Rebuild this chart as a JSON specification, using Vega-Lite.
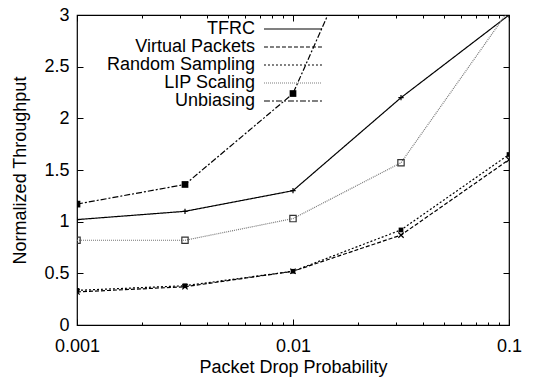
{
  "$schema": "https://vega.github.io/schema/vega-lite/v6.json",
  "width": 432,
  "height": 310,
  "autosize": {"type": "none"},
  "padding": {"left": 77, "top": 15, "right": 31, "bottom": 58},
  "background": "white",
  "config": {
    "font": "Liberation Sans",
    "view": {"stroke": "black", "strokeWidth": 1.2},
    "axis": {"labelFont": "Liberation Sans", "titleFont": "Liberation Sans", "labelFontSize": 18, "titleFontSize": 18, "titleFontWeight": "normal", "labelColor": "black", "titleColor": "black", "tickColor": "black", "grid": false, "domain": false},
    "legend": {"labelFont": "Liberation Sans", "labelFontSize": 18, "labelColor": "black"}
  },
  "data": {
    "values": [
      {"series": "TFRC", "p": 0.001, "t": 1.02},
      {"series": "TFRC", "p": 0.0031623, "t": 1.1},
      {"series": "TFRC", "p": 0.01, "t": 1.3},
      {"series": "TFRC", "p": 0.031623, "t": 2.2},
      {"series": "TFRC", "p": 0.1, "t": 3.0},
      {"series": "Virtual Packets", "p": 0.001, "t": 0.32},
      {"series": "Virtual Packets", "p": 0.0031623, "t": 0.37},
      {"series": "Virtual Packets", "p": 0.01, "t": 0.52},
      {"series": "Virtual Packets", "p": 0.031623, "t": 0.87},
      {"series": "Virtual Packets", "p": 0.1, "t": 1.6},
      {"series": "Random Sampling", "p": 0.001, "t": 0.335},
      {"series": "Random Sampling", "p": 0.0031623, "t": 0.38},
      {"series": "Random Sampling", "p": 0.01, "t": 0.52},
      {"series": "Random Sampling", "p": 0.031623, "t": 0.92},
      {"series": "Random Sampling", "p": 0.1, "t": 1.65},
      {"series": "LIP Scaling", "p": 0.001, "t": 0.82},
      {"series": "LIP Scaling", "p": 0.0031623, "t": 0.82},
      {"series": "LIP Scaling", "p": 0.01, "t": 1.03},
      {"series": "LIP Scaling", "p": 0.031623, "t": 1.57},
      {"series": "LIP Scaling", "p": 0.1, "t": 3.05},
      {"series": "Unbiasing", "p": 0.001, "t": 1.17},
      {"series": "Unbiasing", "p": 0.0031623, "t": 1.36},
      {"series": "Unbiasing", "p": 0.01, "t": 2.24},
      {"series": "Unbiasing", "p": 0.031623, "t": 4.6}
    ]
  },
  "resolve": {"axis": {"x": "independent", "y": "independent"}},
  "layer": [
    {
      "mark": {"type": "line", "clip": true, "strokeWidth": 1.2},
      "encoding": {
        "x": {"field": "p", "type": "quantitative", "scale": {"type": "log", "domain": [0.001, 0.1], "nice": false},
          "axis": {"orient": "bottom", "values": [0.001, 0.01, 0.1], "labelExpr": "datum.value < 0.005 ? '0.001' : datum.value < 0.05 ? '0.01' : '0.1'", "tickSize": -6, "labelPadding": 18, "labelFlush": false, "labelOverlap": false, "title": "Packet Drop Probability", "titlePadding": 3}},
        "y": {"field": "t", "type": "quantitative", "scale": {"domain": [0, 3], "nice": false, "zero": true},
          "axis": {"orient": "left", "values": [0, 0.5, 1, 1.5, 2, 2.5, 3], "format": "~g", "tickSize": -6, "labelPadding": 14, "labelFlush": false, "labelOverlap": false, "title": "Normalized Throughput", "titlePadding": 14}},
        "color": {"field": "series", "type": "nominal",
          "scale": {"domain": ["TFRC", "Virtual Packets", "Random Sampling", "LIP Scaling", "Unbiasing"], "range": ["black", "black", "black", "#777777", "black"]},
          "legend": {"title": null, "orient": "none", "legendX": 207, "legendY": 5, "symbolType": "M-5,0H5", "symbolSize": 135, "symbolStrokeWidth": 1.2, "labelAlign": "right", "labelOffset": -47, "rowPadding": 0, "labelFontSize": 18, "labelLimit": 300}},
        "strokeDash": {"field": "series", "type": "nominal",
          "scale": {"domain": ["TFRC", "Virtual Packets", "Random Sampling", "LIP Scaling", "Unbiasing"], "range": [[1, 0], [4, 2], [2, 2], [1, 1], [6, 2, 2, 2]]}}
      }
    },
    {
      "transform": [{"filter": "datum.series == 'TFRC' || datum.series == 'Virtual Packets'"}],
      "mark": {"type": "point", "clip": true, "filled": false, "color": "black", "strokeWidth": 1.2, "opacity": 1},
      "encoding": {
        "x": {"field": "p", "type": "quantitative", "scale": {"type": "log", "domain": [0.001, 0.1], "nice": false},
          "axis": {"orient": "bottom", "values": [0.002, 0.003, 0.004, 0.005, 0.006, 0.007, 0.008, 0.009, 0.02, 0.03, 0.04, 0.05, 0.06, 0.07, 0.08, 0.09], "labels": false, "tickSize": -3, "title": null}},
        "y": {"field": "t", "type": "quantitative", "scale": {"domain": [0, 3], "nice": false},
          "axis": {"orient": "right", "values": [0, 0.5, 1, 1.5, 2, 2.5, 3], "labels": false, "tickSize": -6, "title": null}},
        "shape": {"field": "series", "type": "nominal", "legend": null,
          "scale": {"domain": ["TFRC", "Virtual Packets"], "range": ["M-1,0H1M0,-1V1", "M-1,-1L1,1M-1,1L1,-1"]}},
        "size": {"value": 28}
      }
    },
    {
      "transform": [{"filter": "datum.series == 'LIP Scaling'"}],
      "mark": {"type": "square", "clip": true, "filled": false, "color": "#333333", "strokeWidth": 1.2, "size": 40, "opacity": 1},
      "encoding": {
        "x": {"field": "p", "type": "quantitative", "scale": {"type": "log", "domain": [0.001, 0.1], "nice": false},
          "axis": {"orient": "top", "values": [0.001, 0.01, 0.1], "labels": false, "tickSize": -6, "title": null}},
        "y": {"field": "t", "type": "quantitative", "scale": {"domain": [0, 3], "nice": false}, "axis": null}
      }
    },
    {
      "transform": [{"filter": "datum.series == 'Random Sampling' || datum.series == 'Unbiasing'"}],
      "mark": {"type": "square", "clip": true, "filled": true, "color": "black", "opacity": 1},
      "encoding": {
        "x": {"field": "p", "type": "quantitative", "scale": {"type": "log", "domain": [0.001, 0.1], "nice": false},
          "axis": {"orient": "top", "values": [0.002, 0.003, 0.004, 0.005, 0.006, 0.007, 0.008, 0.009, 0.02, 0.03, 0.04, 0.05, 0.06, 0.07, 0.08, 0.09], "labels": false, "tickSize": -3, "title": null}},
        "y": {"field": "t", "type": "quantitative", "scale": {"domain": [0, 3], "nice": false}, "axis": null},
        "size": {"field": "series", "type": "nominal", "legend": null, "scale": {"domain": ["Random Sampling", "Unbiasing"], "range": [22, 45]}}
      }
    }
  ]
}
